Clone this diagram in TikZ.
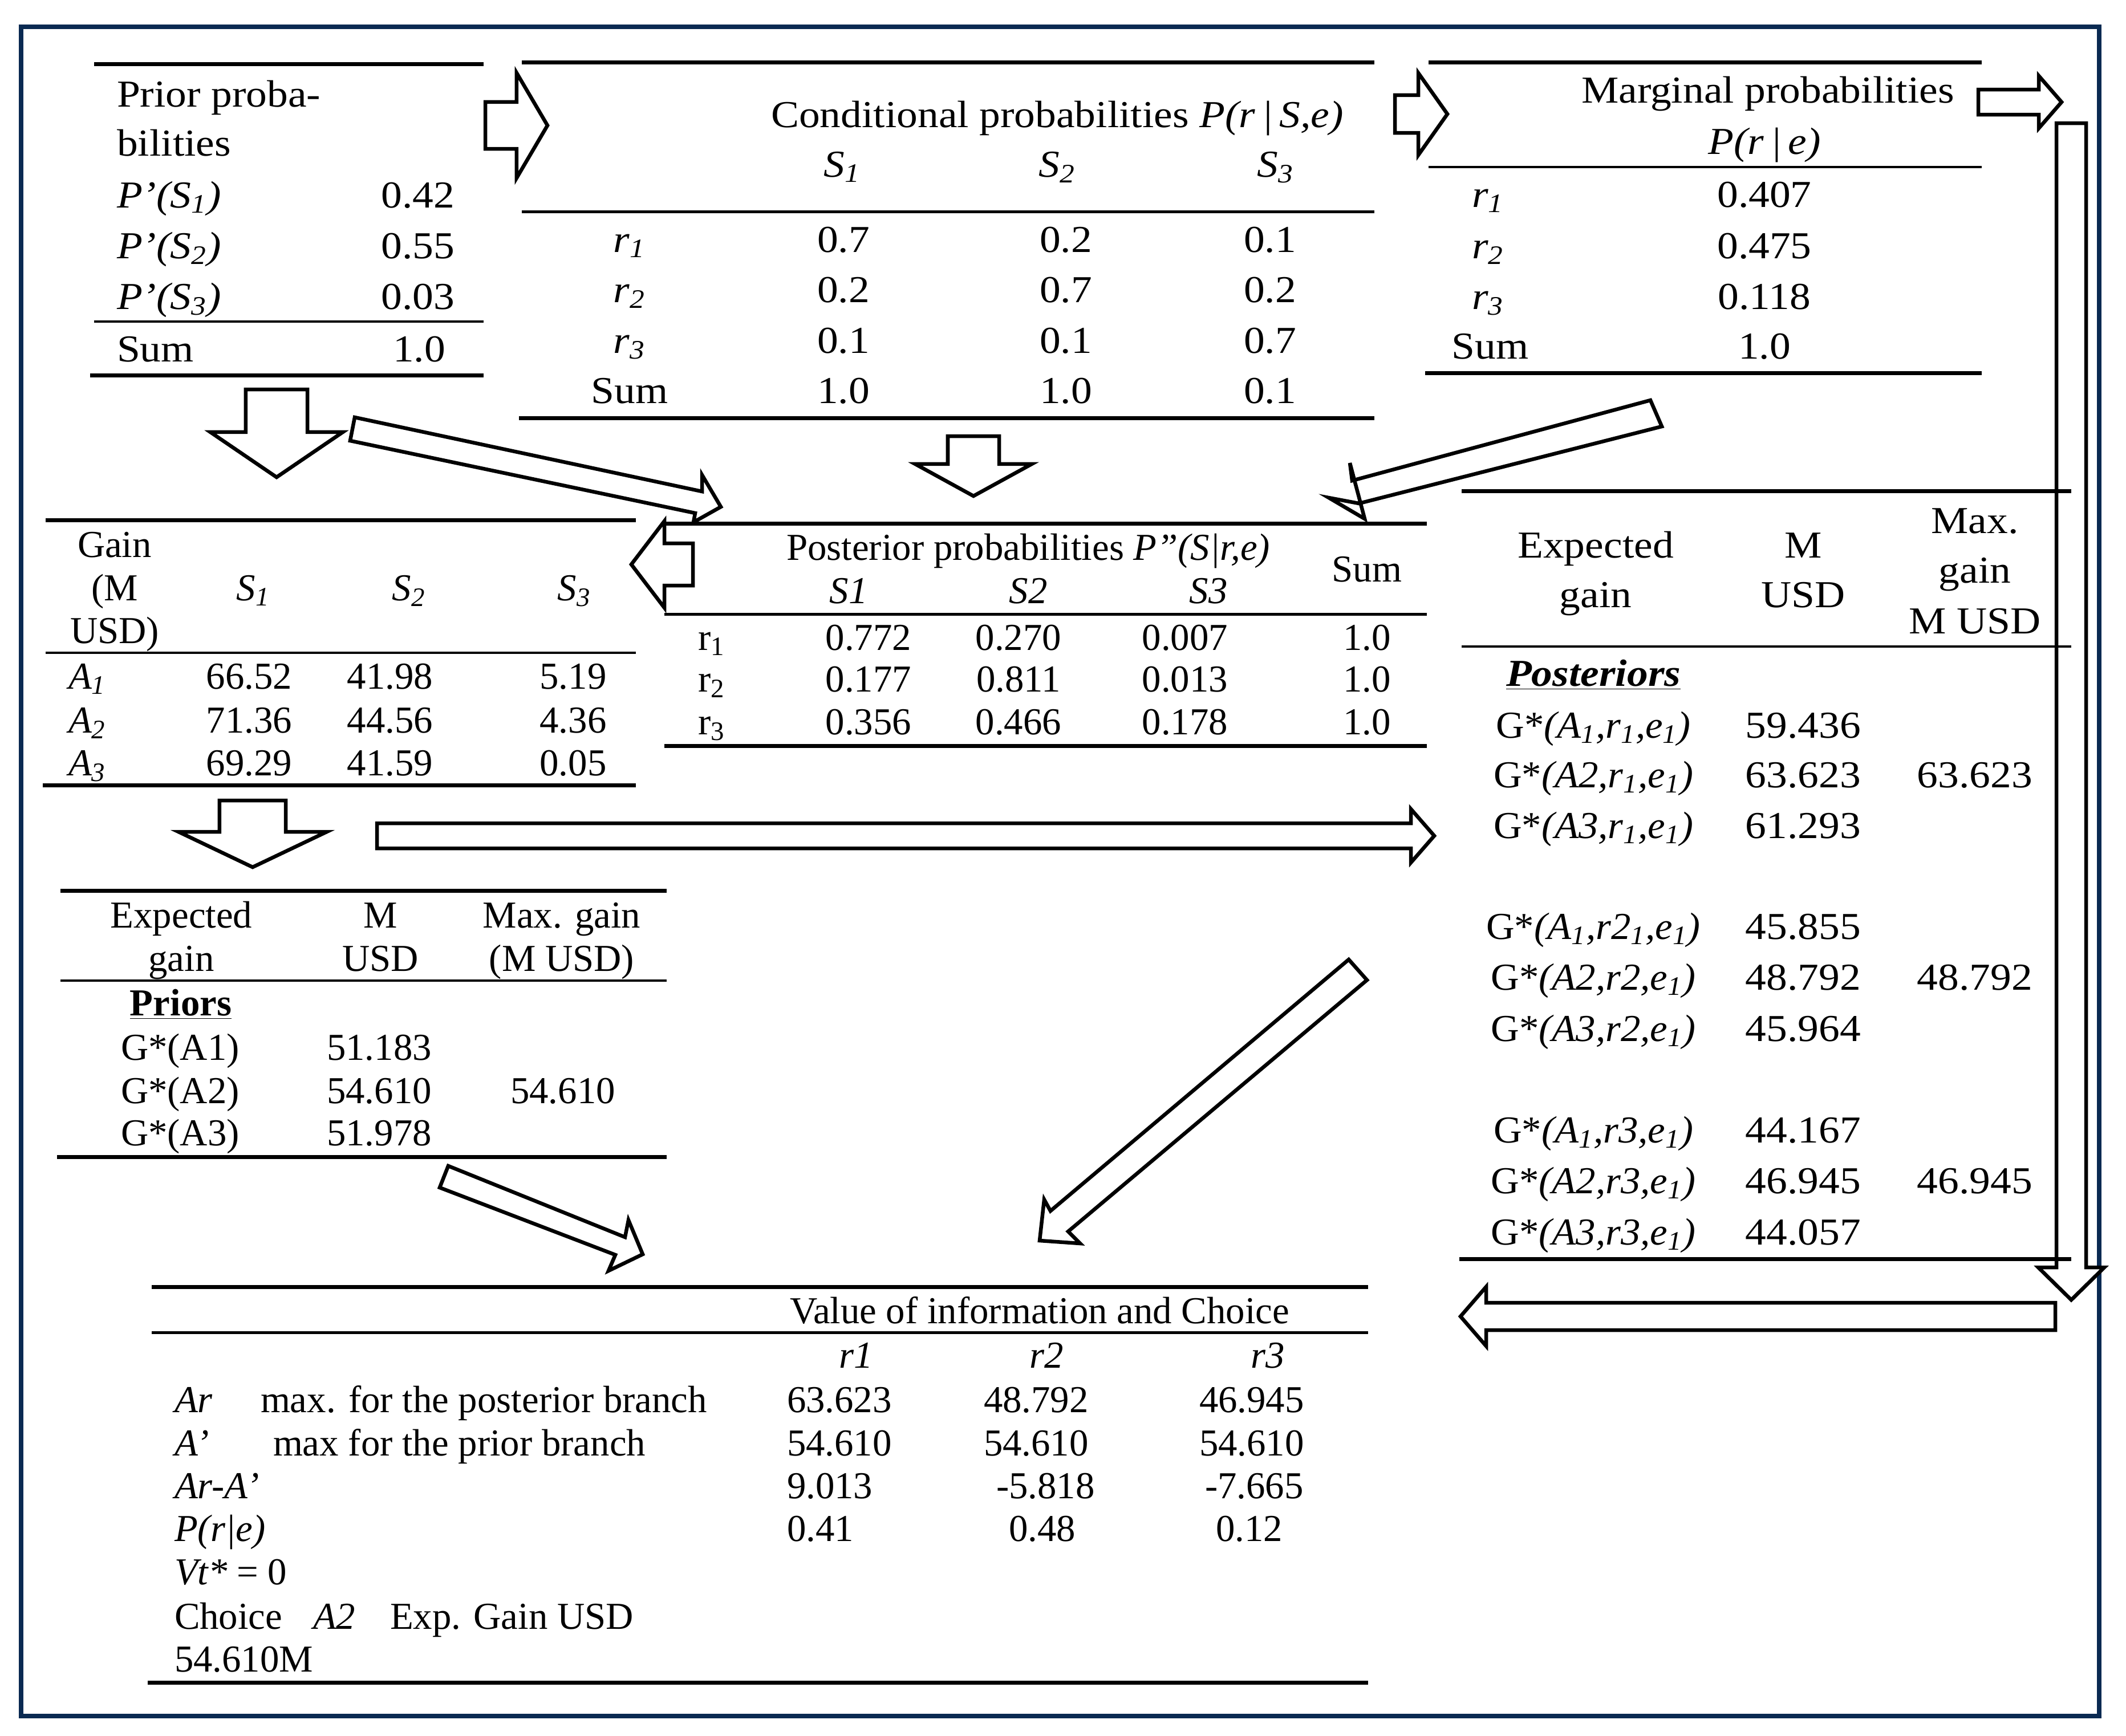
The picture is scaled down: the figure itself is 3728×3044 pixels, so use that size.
\documentclass[tikz,border=0pt]{standalone}
\usepackage{fontspec}
\setmainfont{Liberation Serif}
\newfontfamily\palfam[FakeStretch=1.1]{Liberation Serif}
\newfontfamily\palgfam[FakeStretch=1.03]{Liberation Serif}
\usetikzlibrary{calc}
\definecolor{navy}{RGB}{10,42,82}
\newcommand\subx[1]{\textsubscript{#1}}
\newcommand\tmsf{\fontsize{19}{23}\selectfont}
\newcommand\palf{\fontsize{19}{23}\selectfont\palfam}
\newcommand\palg{\fontsize{19}{23}\selectfont\palgfam}
% block arrow: tail, tip, half shaft width, half head width, head length
\newcommand\blockarrow[5]{%
  \coordinate (bab) at ($(#2)!#5!(#1)$);
  \draw[barr] ($(#1)!#3!90:(#2)$) -- ($(bab)!#3!90:(#2)$) -- ($(bab)!#4!90:(#2)$) -- (#2)
     -- ($(bab)!#4!-90:(#2)$) -- ($(bab)!#3!-90:(#2)$) -- ($(#1)!#3!-90:(#2)$) -- cycle;}
\begin{document}
\begin{tikzpicture}[x=0.01cm,y=-0.01cm,
  every node/.style={inner sep=0pt,outer sep=0pt,font=\tmsf},
  pal/.style={font=\palf},
  palg/.style={font=\palg},
  tc/.style={anchor=base},
  tw/.style={anchor=base west},
  thk/.style={line width=0.07cm},
  mdr/.style={line width=0.05cm},
  thn/.style={line width=0.04cm},
  barr/.style={draw=black,fill=white,line width=0.065cm,line join=miter},
  frame/.style={draw=navy,line width=0.08cm}]
\fill[white] (0,0) rectangle (3728,3044);
\useasboundingbox (0,0) rectangle (3728,3044);
\draw[frame] (37,47) rectangle (3681,3010);

% ---------- block arrows ----------
\coordinate (a1t) at (851,220);   \coordinate (a1h) at (960,220);
\coordinate (a2t) at (2446,200);  \coordinate (a2h) at (2538,200);
\coordinate (a3t) at (3469,179);  \coordinate (a3h) at (3615,179);
\coordinate (a4t) at (3632,216);  \coordinate (a4h) at (3632,2280);
\coordinate (a5t) at (3604,2309); \coordinate (a5h) at (2561,2309);
\coordinate (alt) at (1215,990);  \coordinate (alh) at (1107,990);
\coordinate (pdt) at (485,683);   \coordinate (pdh) at (485,837);
\coordinate (cdt) at (1707,765);  \coordinate (cdh) at (1707,870);
\coordinate (gdt) at (443,1404);  \coordinate (gdh) at (443,1521);
\coordinate (lrt) at (661,1466);  \coordinate (lrh) at (2515,1466);
\blockarrow{a1t}{a1h}{0.41cm}{0.92cm}{0.54cm}
\blockarrow{a2t}{a2h}{0.33cm}{0.72cm}{0.51cm}
\blockarrow{a3t}{a3h}{0.22cm}{0.46cm}{0.40cm}
\blockarrow{a4t}{a4h}{0.26cm}{0.58cm}{0.57cm}
\blockarrow{a5t}{a5h}{0.24cm}{0.52cm}{0.45cm}
\blockarrow{alt}{alh}{0.37cm}{0.76cm}{0.58cm}
\blockarrow{pdt}{pdh}{0.54cm}{1.16cm}{0.79cm}
\blockarrow{cdt}{cdh}{0.45cm}{1.02cm}{0.56cm}
\blockarrow{gdt}{gdh}{0.58cm}{1.30cm}{0.62cm}
\blockarrow{lrt}{lrh}{0.22cm}{0.47cm}{0.41cm}
% skewed diagonal arrows
\draw[barr] (622,732) -- (1231,862) -- (1231,833) -- (1264,889) -- (1216,916) -- (1219,900) -- (614,773) -- cycle;
\draw[barr] (2894,702) -- (2371,843) -- (2367,812) -- (2393,910) -- (2330,873) -- (2383,883) -- (2914,748) -- cycle;
\draw[barr] (786,2045) -- (1096,2170) -- (1102,2140) -- (1127,2200) -- (1067,2229) -- (1079,2201) -- (771,2083) -- cycle;
\draw[barr] (2365,1683) -- (1842,2124) -- (1831,2104) -- (1823,2176) -- (1894,2181) -- (1873,2160) -- (2397,1719) -- cycle;

% ---------- Prior probabilities ----------
\draw[thk] (165,112) -- (848,112);
\draw[thn] (165,564) -- (848,564);
\draw[thk] (158,658) -- (848,658);
\node[pal,tw] (pt1) at (205,187) {Prior proba-};
\node[pal,tw] (pt2) at (205,273) {bilities};
\node[pal,tw] (pl1) at (205,364) {\textit{P’(S\subx{1})}};
\node[pal,tw] (pl2) at (205,453) {\textit{P’(S\subx{2})}};
\node[pal,tw] (pl3) at (205,542) {\textit{P’(S\subx{3})}};
\node[pal,tc] (pv1) at (733,364) {0.42};
\node[pal,tc] (pv2) at (733,453) {0.55};
\node[pal,tc] (pv3) at (733,542) {0.03};
\node[pal,tw] (ps)  at (205,634) {Sum};
\node[pal,tc] (psv) at (735,634) {1.0};

% ---------- Conditional probabilities ----------
\draw[thk] (915,109) -- (2410,109);
\draw[mdr] (915,371) -- (2410,371);
\draw[thk] (910,733) -- (2410,733);
\node[pal,tc] (ct) at (1854,223) {Conditional probabilities \textit{P(r\,|\,S,e)}};
\node[pal,tc] (cs1) at (1477,310) {\textit{S\subx{1}}};
\node[pal,tc] (cs2) at (1854,310) {\textit{S\subx{2}}};
\node[pal,tc] (cs3) at (2237,310) {\textit{S\subx{3}}};
\node[pal,tc] (cr1) at (1104,442) {\textit{r\subx{1}}};
\node[pal,tc] (cr2) at (1104,530) {\textit{r\subx{2}}};
\node[pal,tc] (cr3) at (1104,619) {\textit{r\subx{3}}};
\node[pal,tc] (crs) at (1104,707) {Sum};
\node[pal,tc] (c11) at (1479,442) {0.7};
\node[pal,tc] (c12) at (1869,442) {0.2};
\node[pal,tc] (c13) at (2227,442) {0.1};
\node[pal,tc] (c21) at (1479,530) {0.2};
\node[pal,tc] (c22) at (1869,530) {0.7};
\node[pal,tc] (c23) at (2227,530) {0.2};
\node[pal,tc] (c31) at (1479,619) {0.1};
\node[pal,tc] (c32) at (1869,619) {0.1};
\node[pal,tc] (c33) at (2227,619) {0.7};
\node[pal,tc] (c41) at (1479,707) {1.0};
\node[pal,tc] (c42) at (1869,707) {1.0};
\node[pal,tc] (c43) at (2227,707) {0.1};

% ---------- Marginal probabilities ----------
\draw[thk] (2505,109) -- (3475,109);
\draw[thn] (2505,293) -- (3475,293);
\draw[thk] (2499,654) -- (3475,654);
\node[pal,tc] (mt1) at (3100,180) {Marginal probabilities};
\node[pal,tc] (mt2) at (3094,270) {\textit{P(r\,|\,e)}};
\node[pal,tc] (mr1) at (2609,363) {\textit{r\subx{1}}};
\node[pal,tc] (mr2) at (2609,453) {\textit{r\subx{2}}};
\node[pal,tc] (mr3) at (2609,542) {\textit{r\subx{3}}};
\node[pal,tc] (mrs) at (2613,629) {Sum};
\node[pal,tc] (mv1) at (3094,363) {0.407};
\node[pal,tc] (mv2) at (3094,453) {0.475};
\node[pal,tc] (mv3) at (3094,542) {0.118};
\node[pal,tc] (mvs) at (3094,629) {1.0};

% ---------- Gain table ----------
\draw[thk] (80,912) -- (1115,912);
\draw[thn] (80,1145) -- (1115,1145);
\draw[thk] (75,1377) -- (1115,1377);
\node[tc] (gh1) at (201,977) {Gain};
\node[tc] (gh2) at (201,1053) {(M};
\node[tc] (gh3) at (201,1128) {USD)};
\node[tc] (gs1) at (444,1053) {\textit{S\subx{1}}};
\node[tc] (gs2) at (717,1053) {\textit{S\subx{2}}};
\node[tc] (gs3) at (1007,1053) {\textit{S\subx{3}}};
\node[tw] (ga1) at (120,1208) {\textit{A\subx{1}}};
\node[tw] (ga2) at (120,1285) {\textit{A\subx{2}}};
\node[tw] (ga3) at (120,1360) {\textit{A\subx{3}}};
\node[tc] (g11) at (437,1208) {66.52};
\node[tc] (g12) at (684,1208) {41.98};
\node[tc] (g13) at (1005,1208) {5.19};
\node[tc] (g21) at (437,1285) {71.36};
\node[tc] (g22) at (684,1285) {44.56};
\node[tc] (g23) at (1005,1285) {4.36};
\node[tc] (g31) at (437,1360) {69.29};
\node[tc] (g32) at (684,1360) {41.59};
\node[tc] (g33) at (1005,1360) {0.05};

% ---------- Posterior probabilities ----------
\draw[thk] (1165,918) -- (2502,918);
\draw[mdr] (1165,1077) -- (2502,1077);
\draw[thk] (1165,1308) -- (2502,1308);
\node[tc] (qt) at (1803,982) {Posterior probabilities \textit{P”(S|r,e)}};
\node[tc] (qs1) at (1488,1058) {\textit{S1}};
\node[tc] (qs2) at (1803,1058) {\textit{S2}};
\node[tc] (qs3) at (2119,1058) {\textit{S3}};
\node[tc] (qsum) at (2397,1020) {Sum};
\node[tw] (qr1) at (1224,1140) {r\subx{1}};
\node[tw] (qr2) at (1224,1213) {r\subx{2}};
\node[tw] (qr3) at (1224,1288) {r\subx{3}};
\node[tc] (q11) at (1523,1140) {0.772};
\node[tc] (q12) at (1786,1140) {0.270};
\node[tc] (q13) at (2078,1140) {0.007};
\node[tc] (q14) at (2397,1140) {1.0};
\node[tc] (q21) at (1523,1213) {0.177};
\node[tc] (q22) at (1786,1213) {0.811};
\node[tc] (q23) at (2078,1213) {0.013};
\node[tc] (q24) at (2397,1213) {1.0};
\node[tc] (q31) at (1523,1288) {0.356};
\node[tc] (q32) at (1786,1288) {0.466};
\node[tc] (q33) at (2078,1288) {0.178};
\node[tc] (q34) at (2397,1288) {1.0};

% ---------- Posterior expected gain ----------
\draw[thk] (2563,861) -- (3632,861);
\draw[thn] (2563,1134) -- (3632,1134);
\draw[thk] (2559,2208) -- (3632,2208);
\node[pal,tc] (eh1) at (2798,978) {Expected};
\node[pal,tc] (eh2) at (2798,1065) {gain};
\node[pal,tc] (eh3) at (3162,978) {M};
\node[pal,tc] (eh4) at (3162,1065) {USD};
\node[pal,tc] (eh5) at (3463,935) {Max.};
\node[pal,tc] (eh6) at (3463,1022) {gain};
\node[pal,tc] (eh7) at (3463,1111) {M USD};
\node[pal,tw] (epost) at (2641,1203) {\underline{\textbf{\textit{Posteriors}}}};
\node[palg,tc] (eg1) at (2794,1294) {G*\textit{(A\subx{1},r\subx{1},e\subx{1})}};
\node[palg,tc] (eg2) at (2794,1381) {G*\textit{(A2,r\subx{1},e\subx{1})}};
\node[palg,tc] (eg3) at (2794,1470) {G*\textit{(A3,r\subx{1},e\subx{1})}};
\node[palg,tc] (eg4) at (2794,1647) {G*\textit{(A\subx{1},r2\subx{1},e\subx{1})}};
\node[palg,tc] (eg5) at (2794,1736) {G*\textit{(A2,r2,e\subx{1})}};
\node[palg,tc] (eg6) at (2794,1826) {G*\textit{(A3,r2,e\subx{1})}};
\node[palg,tc] (eg7) at (2794,2004) {G*\textit{(A\subx{1},r3,e\subx{1})}};
\node[palg,tc] (eg8) at (2794,2093) {G*\textit{(A2,r3,e\subx{1})}};
\node[palg,tc] (eg9) at (2794,2183) {G*\textit{(A3,r3,e\subx{1})}};
\node[pal,tc] (ev1) at (3162,1294) {59.436};
\node[pal,tc] (ev2) at (3162,1381) {63.623};
\node[pal,tc] (ev3) at (3162,1470) {61.293};
\node[pal,tc] (ev4) at (3162,1647) {45.855};
\node[pal,tc] (ev5) at (3162,1736) {48.792};
\node[pal,tc] (ev6) at (3162,1826) {45.964};
\node[pal,tc] (ev7) at (3162,2004) {44.167};
\node[pal,tc] (ev8) at (3162,2093) {46.945};
\node[pal,tc] (ev9) at (3162,2183) {44.057};
\node[pal,tc] (em1) at (3463,1381) {63.623};
\node[pal,tc] (em2) at (3463,1736) {48.792};
\node[pal,tc] (em3) at (3463,2093) {46.945};

% ---------- Priors expected gain ----------
\draw[thk] (106,1562) -- (1169,1562);
\draw[thn] (106,1720) -- (1169,1720);
\draw[thk] (100,2029) -- (1169,2029);
\node[tc] (ph1) at (318,1627) {Expected};
\node[tc] (ph2) at (318,1703) {gain};
\node[tc] (ph3) at (667,1627) {M};
\node[tc] (ph4) at (667,1703) {USD};
\node[tc] (ph5) at (985,1627) {Max. gain};
\node[tc] (ph6) at (985,1703) {(M USD)};
\node[tc] (ppri) at (317,1781) {\underline{\textbf{Priors}}};
\node[tc] (pg1) at (316,1859) {G*(A1)};
\node[tc] (pg2) at (316,1935) {G*(A2)};
\node[tc] (pg3) at (316,2009) {G*(A3)};
\node[tc] (pgv1) at (665,1859) {51.183};
\node[tc] (pgv2) at (665,1935) {54.610};
\node[tc] (pgv3) at (665,2009) {51.978};
\node[tc] (pgm) at (987,1935) {54.610};

% ---------- Value of information ----------
\draw[thk] (266,2257) -- (2399,2257);
\draw[mdr] (266,2337) -- (2399,2337);
\draw[thk] (259,2951) -- (2399,2951);
\node[tc] (vt) at (1823,2321) {Value of information and Choice};
\node[tc] (vr1) at (1501,2399) {\textit{r1}};
\node[tc] (vr2) at (1835,2399) {\textit{r2}};
\node[tc] (vr3) at (2223,2399) {\textit{r3}};
\node[tw] (vl1) at (306,2477) {\textit{Ar}};
\node[tw] (vl1b) at (457,2477) {max. for the posterior branch};
\node[tw] (vl2) at (306,2553) {\textit{A’}};
\node[tw] (vl2b) at (479,2553) {max for the prior branch};
\node[tw] (vl3) at (306,2628) {\textit{Ar-A’}};
\node[tw] (vl4) at (306,2703) {\textit{P(r|e)}};
\node[tw] (vl5) at (306,2779) {\textit{Vt*} = 0};
\node[tw] (vl6) at (306,2857) {Choice};
\node[tw] (vl6b) at (549,2857) {\textit{A2}};
\node[tw] (vl6c) at (684,2857) {Exp. Gain USD};
\node[tw] (vl7) at (306,2932) {54.610M};
\node[tw] (v11) at (1380,2477) {63.623};
\node[tw] (v12) at (1725,2477) {48.792};
\node[tw] (v13) at (2103,2477) {46.945};
\node[tw] (v21) at (1380,2553) {54.610};
\node[tw] (v22) at (1725,2553) {54.610};
\node[tw] (v23) at (2103,2553) {54.610};
\node[tw] (v31) at (1380,2628) {9.013};
\node[tw] (v32) at (1747,2628) {-5.818};
\node[tw] (v33) at (2113,2628) {-7.665};
\node[tw] (v41) at (1380,2703) {0.41};
\node[tw] (v42) at (1769,2703) {0.48};
\node[tw] (v43) at (2132,2703) {0.12};
\end{tikzpicture}
\end{document}
